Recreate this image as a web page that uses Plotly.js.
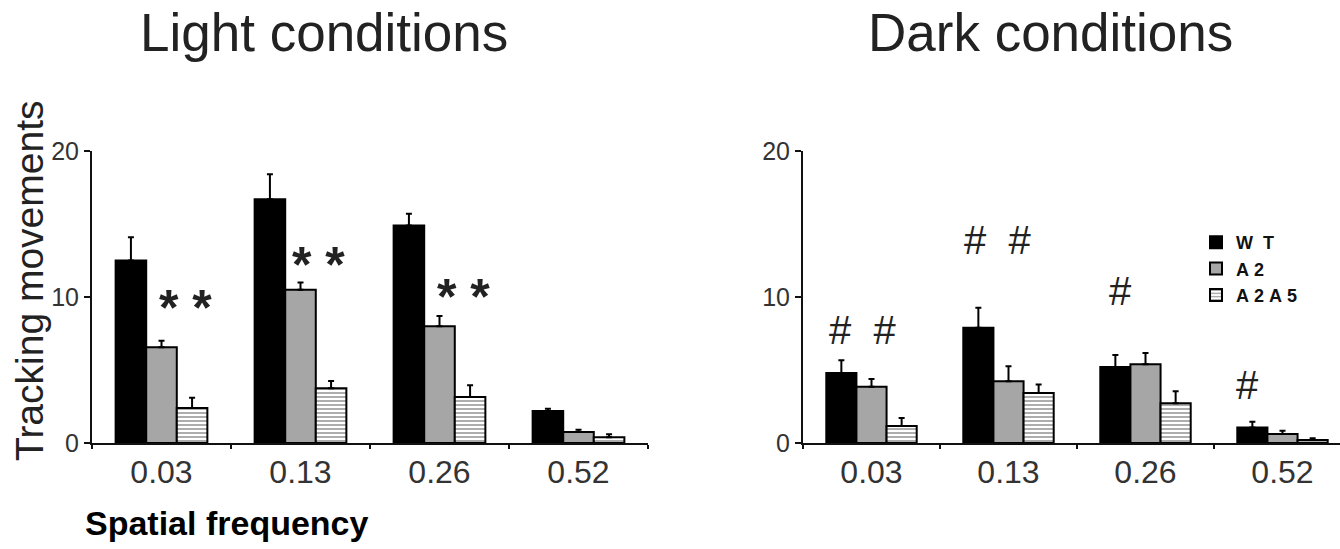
<!DOCTYPE html>
<html><head><meta charset="utf-8">
<script src="https://cdn.plot.ly/plotly-3.0.1.min.js"></script>
<style>body{margin:0;background:#fff}#chart{width:1340px;height:549px}</style>
</head><body><div id="chart"></div>
<script>
// ---- data ----
const categories = ['0.03', '0.13', '0.26', '0.52'];
const seriesNames = ['W\u00a0\u00a0T', 'A\u00a02', 'A\u00a02\u00a0A\u00a05'];

const lightWT = [12.5, 16.7, 14.9, 2.2];
const lightWTErr = [1.6, 1.7, 0.8, 0.15];
const lightA2 = [6.55, 10.5, 8.0, 0.75];
const lightA2Err = [0.45, 0.5, 0.7, 0.15];
const lightA2A5 = [2.4, 3.75, 3.15, 0.4];
const lightA2A5Err = [0.7, 0.5, 0.8, 0.2];

const darkWT = [4.8, 7.9, 5.2, 1.07];
const darkWTErr = [0.87, 1.36, 0.83, 0.39];
const darkA2 = [3.86, 4.23, 5.39, 0.62];
const darkA2Err = [0.53, 1.03, 0.77, 0.22];
const darkA2A5 = [1.17, 3.43, 2.72, 0.2];
const darkA2A5Err = [0.54, 0.57, 0.82, 0.12];

// significance marks: text, category position, value
const lightMarkText = ['* *', '* *', '* *'];
const lightMarkPos = [0.176, 1.133, 2.176];
const lightMarkY = [9.9, 12.9, 10.7];
const darkMarkText = ['#  #', '#  #', '#', '#'];
const darkMarkPos = [-0.069, 0.923, 1.814, 2.741];
const darkMarkY = [7.74, 13.9, 10.4, 3.97];

// ---- styling ----
const FONT = 'Arial, "Liberation Sans", Helvetica, sans-serif';
const styles = [
  {color: '#000000', pattern: {shape: ''}},
  {color: '#a6a6a6', pattern: {shape: ''}},
  {color: '#ffffff', pattern: {shape: '-', fgcolor: '#8a8a8a', bgcolor: '#ffffff', size: 4, solidity: 0.35, fillmode: 'replace'}}
];

function barTrace(vals, errs, idx, xa, ya, showLeg) {
  return {
    type: 'bar', x: categories, y: vals, name: '<b>' + seriesNames[idx] + '</b>',
    xaxis: xa, yaxis: ya, showlegend: showLeg, legendgroup: 'g' + idx,
    marker: {color: styles[idx].color, pattern: styles[idx].pattern, line: {color: '#000', width: 2}},
    error_y: {type: 'data', symmetric: false, array: errs, arrayminus: errs.map(() => 0),
              color: '#000', thickness: 2, width: 3},
    hoverinfo: 'skip'
  };
}

const data = [
  barTrace(lightWT, lightWTErr, 0, 'x', 'y', false),
  barTrace(lightA2, lightA2Err, 1, 'x', 'y', false),
  barTrace(lightA2A5, lightA2A5Err, 2, 'x', 'y', false),
  barTrace(darkWT, darkWTErr, 0, 'x2', 'y2', true),
  barTrace(darkA2, darkA2Err, 1, 'x2', 'y2', true),
  barTrace(darkA2A5, darkA2A5Err, 2, 'x2', 'y2', true)
];

const W = 1340, H = 549;
const yDom = [1 - 443 / H, 1 - 151 / H];

function xAxis(dom, range, anchor) {
  return {domain: dom, type: 'category', range: range, anchor: anchor,
    showline: true, linecolor: '#111', linewidth: 2, ticks: 'outside', tickson: 'boundaries',
    ticklen: 4, tickwidth: 2, tickcolor: '#111', showgrid: false, zeroline: false,
    tickfont: {family: FONT, size: 32, color: '#333'}, fixedrange: true};
}
function yAxis(anchor) {
  return {domain: yDom, range: [0, 20], tickvals: [0, 10, 20], anchor: anchor,
    showline: true, linecolor: '#111', linewidth: 2, ticks: 'outside', ticklen: 6,
    tickwidth: 2, tickcolor: '#111', showgrid: false, zeroline: false,
    tickfont: {family: FONT, size: 25, color: '#333'}, fixedrange: true};
}

const annotations = [];
lightMarkText.forEach((t, i) => annotations.push({xref: 'x', yref: 'y', x: lightMarkPos[i], y: lightMarkY[i],
  text: '<b>' + t + '</b>', showarrow: false, font: {family: FONT, size: 50, color: '#222'}, yanchor: 'middle', yshift: -10}));
darkMarkText.forEach((t, i) => annotations.push({xref: 'x2', yref: 'y2', x: darkMarkPos[i], y: darkMarkY[i],
  text: t, showarrow: false, font: {family: FONT, size: 40, color: '#222'}, yanchor: 'middle'}));

annotations.push(
  {xref: 'paper', yref: 'paper', x: 324 / W, y: 1 - 32 / H, text: 'Light conditions', showarrow: false,
   font: {family: FONT, size: 53, color: '#222'}, xanchor: 'center', yanchor: 'middle'},
  {xref: 'paper', yref: 'paper', x: 1050 / W, y: 1 - 32 / H, text: 'Dark conditions', showarrow: false,
   font: {family: FONT, size: 53, color: '#222'}, xanchor: 'center', yanchor: 'middle'},
  {xref: 'paper', yref: 'paper', x: 29 / W, y: 1 - 281 / H, text: 'Tracking movements', showarrow: false,
   textangle: -90, font: {family: FONT, size: 39, color: '#222'}, xanchor: 'center', yanchor: 'middle'},
  {xref: 'paper', yref: 'paper', x: 227 / W, y: 1 - 523 / H, text: '<b>Spatial frequency</b>', showarrow: false,
   font: {family: FONT, size: 34, color: '#000'}, xanchor: 'center', yanchor: 'middle'}
);

const layout = {
  width: W, height: H, margin: {l: 0, r: 0, t: 0, b: 0},
  paper_bgcolor: '#fff', plot_bgcolor: 'rgba(0,0,0,0)',
  barmode: 'group', bargap: 0.34, bargroupgap: 0,
  xaxis: xAxis([92 / W, 648 / W], [-0.5, 3.5], 'y'),
  yaxis: yAxis('x'),
  xaxis2: xAxis([803 / W, 1], [-0.5, 3.5 - 11 / 137], 'y2'),
  yaxis2: yAxis('x2'),
  showlegend: true,
  legend: {x: 1196 / W, y: 1 - 224 / H, xanchor: 'left', yanchor: 'top', traceorder: 'normal',
    tracegroupgap: 10, bgcolor: 'rgba(0,0,0,0)', font: {family: FONT, size: 18, color: '#111'}},
  annotations: annotations
};

Plotly.newPlot('chart', data, layout, {displayModeBar: false, staticPlot: true});
</script></body></html>
